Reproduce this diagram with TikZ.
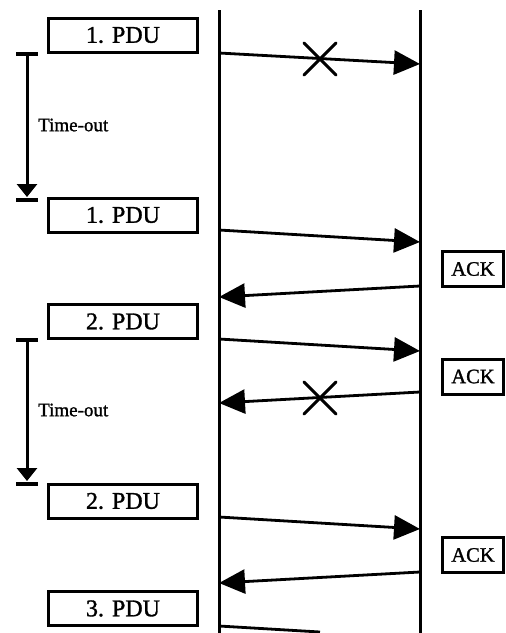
\documentclass[tikz,border=0pt]{standalone}
\usepackage{fontspec}
\setmainfont{Liberation Serif}
\newfontfamily\heavyserif{Liberation Serif}[UprightFeatures={FakeBold=1.3}]
\usetikzlibrary{arrows.meta,calc}
\begin{document}
\begin{tikzpicture}[x=1pt,y=-1pt,
  lifeline/.style={line width=3pt},
  pdubox/.style={draw,line width=3pt,minimum width=149pt,minimum height=34pt,inner sep=0pt,font=\heavyserif\fontsize{24}{26}\selectfont},
  ackbox/.style={draw,line width=3pt,minimum width=61pt,minimum height=35pt,inner sep=0pt,font=\heavyserif\fontsize{20.5}{22}\selectfont},
  msg/.style={line width=2.8pt,-{Triangle[length=26pt,width=24pt]}},
  msgplain/.style={line width=2.8pt},
  lostmark/.style={line width=3pt,line cap=round},
  timer/.style={line width=3pt,-{Triangle[length=13pt,width=20pt]}},
  timerbar/.style={line width=3.5pt},
  timelabel/.style={anchor=west,inner sep=0pt,font=\heavyserif\fontsize{19}{21}\selectfont}]
\useasboundingbox (0,0) rectangle (506,633);
% lifelines
\coordinate (Lt) at (219,10); \coordinate (Lb) at (219,640);
\coordinate (Rt) at (420,10); \coordinate (Rb) at (420,640);
\draw[lifeline] (Lt) -- (Lb);
\draw[lifeline] (Rt) -- (Rb);
% PDU boxes
\node[pdubox] (p1) at (123,35) {1. PDU};
\node[pdubox] (p1b) at (123,215) {1. PDU};
\node[pdubox] (p2) at (123,321.5) {2. PDU};
\node[pdubox] (p2b) at (123,501) {2. PDU};
\node[pdubox] (p3) at (123,608.5) {3. PDU};
% ACK boxes
\node[ackbox] (k1) at (473,269) {ACK};
\node[ackbox] (k2) at (473,376.5) {ACK};
\node[ackbox] (k3) at (473,555) {ACK};
% message endpoints
\coordinate (m1s) at (219,53);  \coordinate (m1e) at (420,64);
\coordinate (m2s) at (219,230); \coordinate (m2e) at (420,242);
\coordinate (m3s) at (420,286); \coordinate (m3e) at (219,297);
\coordinate (m4s) at (219,339); \coordinate (m4e) at (420,351);
\coordinate (m5s) at (420,392); \coordinate (m5e) at (219,403);
\coordinate (m6s) at (219,517); \coordinate (m6e) at (420,529);
\coordinate (m7s) at (420,572); \coordinate (m7e) at (219,583);
\coordinate (m8s) at (219,626); \coordinate (m8e) at (320,632);
\draw[msg] (m1s) -- (m1e);
\draw[msg] (m2s) -- (m2e);
\draw[msg] (m3s) -- (m3e);
\draw[msg] (m4s) -- (m4e);
\draw[msg] (m5s) -- (m5e);
\draw[msg] (m6s) -- (m6e);
\draw[msg] (m7s) -- (m7e);
\draw[msgplain] (m8s) -- (m8e);
% loss crosses
\coordinate (x1) at (320,59);
\coordinate (x2) at (320,398);
\foreach \c in {x1,x2}{
  \draw[lostmark] ($(\c)+(-16,-16)$) -- ($(\c)+(16,16)$);
  \draw[lostmark] ($(\c)+(-16,16)$) -- ($(\c)+(16,-16)$);
}
% timers
\coordinate (t1a) at (27,54);  \coordinate (t1b) at (27,197); \coordinate (t1bar) at (27,200);
\coordinate (t2a) at (27,340); \coordinate (t2b) at (27,481); \coordinate (t2bar) at (27,484);
\draw[timer] (t1a) -- (t1b);
\draw[timer] (t2a) -- (t2b);
\foreach \c in {t1a,t1bar,t2a,t2bar}{
  \draw[timerbar] ($(\c)+(-11,0)$) -- ($(\c)+(11,0)$);
}
\node[timelabel] (to1) at (38,125) {Time-out};
\node[timelabel] (to2) at (38,410) {Time-out};
\end{tikzpicture}
\end{document}
